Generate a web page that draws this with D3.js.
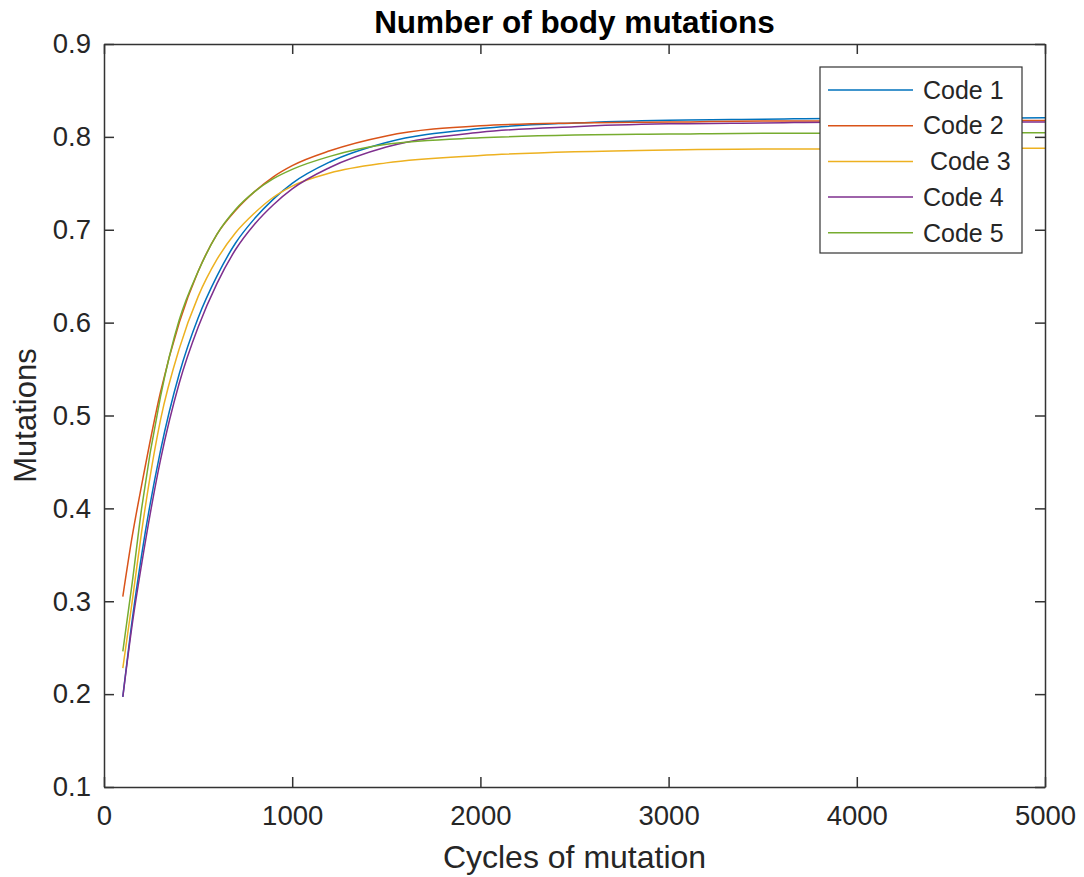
<!DOCTYPE html>
<html>
<head>
<meta charset="utf-8">
<script src="https://cdn.jsdelivr.net/npm/d3@7"></script>
<style>
  html, body { margin: 0; padding: 0; background: #fff; }
  svg { display: block; font-family: Arial, "Liberation Sans", Helvetica, sans-serif; }
</style>
</head>
<body>
<svg id="chart" width="1084" height="877"></svg>
<script>
// ---- data ----
const cycles = [100, 150, 200, 300, 400, 500, 600, 700, 800, 900, 1000, 1200, 1500, 2000, 2500, 3000, 3500, 4000, 4500, 5000];
const code1 = [0.197, 0.280, 0.350, 0.462, 0.545, 0.605, 0.650, 0.686, 0.712, 0.733, 0.750, 0.773, 0.794, 0.809, 0.815, 0.818, 0.819, 0.820, 0.820, 0.8205];
const code2 = [0.305, 0.370, 0.425, 0.525, 0.600, 0.655, 0.695, 0.721, 0.741, 0.757, 0.769, 0.785, 0.801, 0.812, 0.815, 0.816, 0.817, 0.817, 0.8175, 0.8175];
const code3 = [0.228, 0.300, 0.375, 0.495, 0.572, 0.628, 0.668, 0.697, 0.718, 0.735, 0.747, 0.761, 0.772, 0.780, 0.784, 0.786, 0.787, 0.787, 0.7875, 0.7877];
const code4 = [0.197, 0.275, 0.340, 0.452, 0.535, 0.595, 0.642, 0.679, 0.706, 0.727, 0.744, 0.767, 0.789, 0.805, 0.811, 0.814, 0.815, 0.816, 0.816, 0.816];
const code5 = [0.246, 0.320, 0.400, 0.520, 0.603, 0.655, 0.695, 0.722, 0.741, 0.755, 0.765, 0.779, 0.792, 0.799, 0.802, 0.803, 0.804, 0.804, 0.8045, 0.8045];
const seriesNames = ["Code 1", "Code 2", " Code 3", "Code 4", "Code 5"];
const seriesColors = ["#0072BD", "#D95319", "#EDB120", "#7E2F8E", "#77AC30"];
const xTicks = [0, 1000, 2000, 3000, 4000, 5000];
const yTicks = [0.1, 0.2, 0.3, 0.4, 0.5, 0.6, 0.7, 0.8, 0.9];
const titleText = "Number of body mutations";
const xLabel = "Cycles of mutation";
const yLabel = "Mutations";

const seriesValues = [code1, code2, code3, code4, code5];

// ---- layout ----
const L = 104, R = 1045, T = 44, B = 787;
const axisColor = "#333333";
const textColor = "#262626";

const svg = d3.select("#chart");
const x = d3.scaleLinear().domain([0, 5000]).range([L, R]);
const y = d3.scaleLinear().domain([0.1, 0.9]).range([B, T]);

// series lines
const line = d3.line().x(d => x(d[0])).y(d => y(d[1])).curve(d3.curveMonotoneX);
seriesValues.forEach((vals, i) => {
  svg.append("path")
    .datum(cycles.map((c, j) => [c, vals[j]]))
    .attr("fill", "none")
    .attr("stroke", seriesColors[i])
    .attr("stroke-width", 1.5)
    .attr("d", line);
});

// axes (ticks inside, mirrored)
const tickLen = 10;
const styleAxis = g => {
  g.select(".domain").attr("stroke", axisColor).attr("stroke-width", 1.5);
  g.selectAll(".tick line").attr("stroke", axisColor).attr("stroke-width", 1.5);
};
svg.append("g").attr("transform", `translate(0,${B})`)
  .call(d3.axisBottom(x).tickValues(xTicks).tickSizeInner(-tickLen).tickSizeOuter(0).tickPadding(18).tickFormat(d3.format("d")))
  .call(styleAxis)
  .call(g => g.selectAll("text").attr("font-size", 27.5).attr("fill", textColor).attr("font-family", "Arial, 'Liberation Sans', sans-serif"));
svg.append("g").attr("transform", `translate(0,${T})`)
  .call(d3.axisTop(x).tickValues(xTicks).tickSizeInner(-tickLen).tickSizeOuter(0).tickFormat(""))
  .call(styleAxis);
svg.append("g").attr("transform", `translate(${L},0)`)
  .call(d3.axisLeft(y).tickValues(yTicks).tickSizeInner(-tickLen).tickSizeOuter(0).tickPadding(13).tickFormat(d3.format(".1f")))
  .call(styleAxis)
  .call(g => g.selectAll("text").attr("font-size", 27.5).attr("fill", textColor).attr("font-family", "Arial, 'Liberation Sans', sans-serif"));
svg.append("g").attr("transform", `translate(${R},0)`)
  .call(d3.axisRight(y).tickValues(yTicks).tickSizeInner(-tickLen).tickSizeOuter(0).tickFormat(""))
  .call(styleAxis);

// title and labels
svg.append("text").attr("x", (L + R) / 2).attr("y", 33).attr("text-anchor", "middle")
  .attr("font-size", 31.5).attr("font-weight", "bold").attr("fill", "#000").text(titleText);
svg.append("text").attr("x", (L + R) / 2).attr("y", 868).attr("text-anchor", "middle")
  .attr("font-size", 32).attr("fill", textColor).text(xLabel);
svg.append("text").attr("transform", `translate(36,${(T + B) / 2}) rotate(-90)`).attr("text-anchor", "middle")
  .attr("font-size", 31).attr("fill", textColor).text(yLabel);

// legend
const lg = svg.append("g");
lg.append("rect").attr("x", 820).attr("y", 67).attr("width", 202).attr("height", 186)
  .attr("fill", "#fff").attr("stroke", axisColor).attr("stroke-width", 1.2);
seriesNames.forEach((name, i) => {
  const cy = 90 + i * 35.7;
  lg.append("line").attr("x1", 828).attr("x2", 913).attr("y1", cy).attr("y2", cy)
    .attr("stroke", seriesColors[i]).attr("stroke-width", 1.5);
  lg.append("text").attr("x", 923).attr("y", cy).attr("dy", "0.35em")
    .attr("font-size", 25).attr("fill", textColor).style("white-space", "pre").text(name);
});
</script>
</body>
</html>
